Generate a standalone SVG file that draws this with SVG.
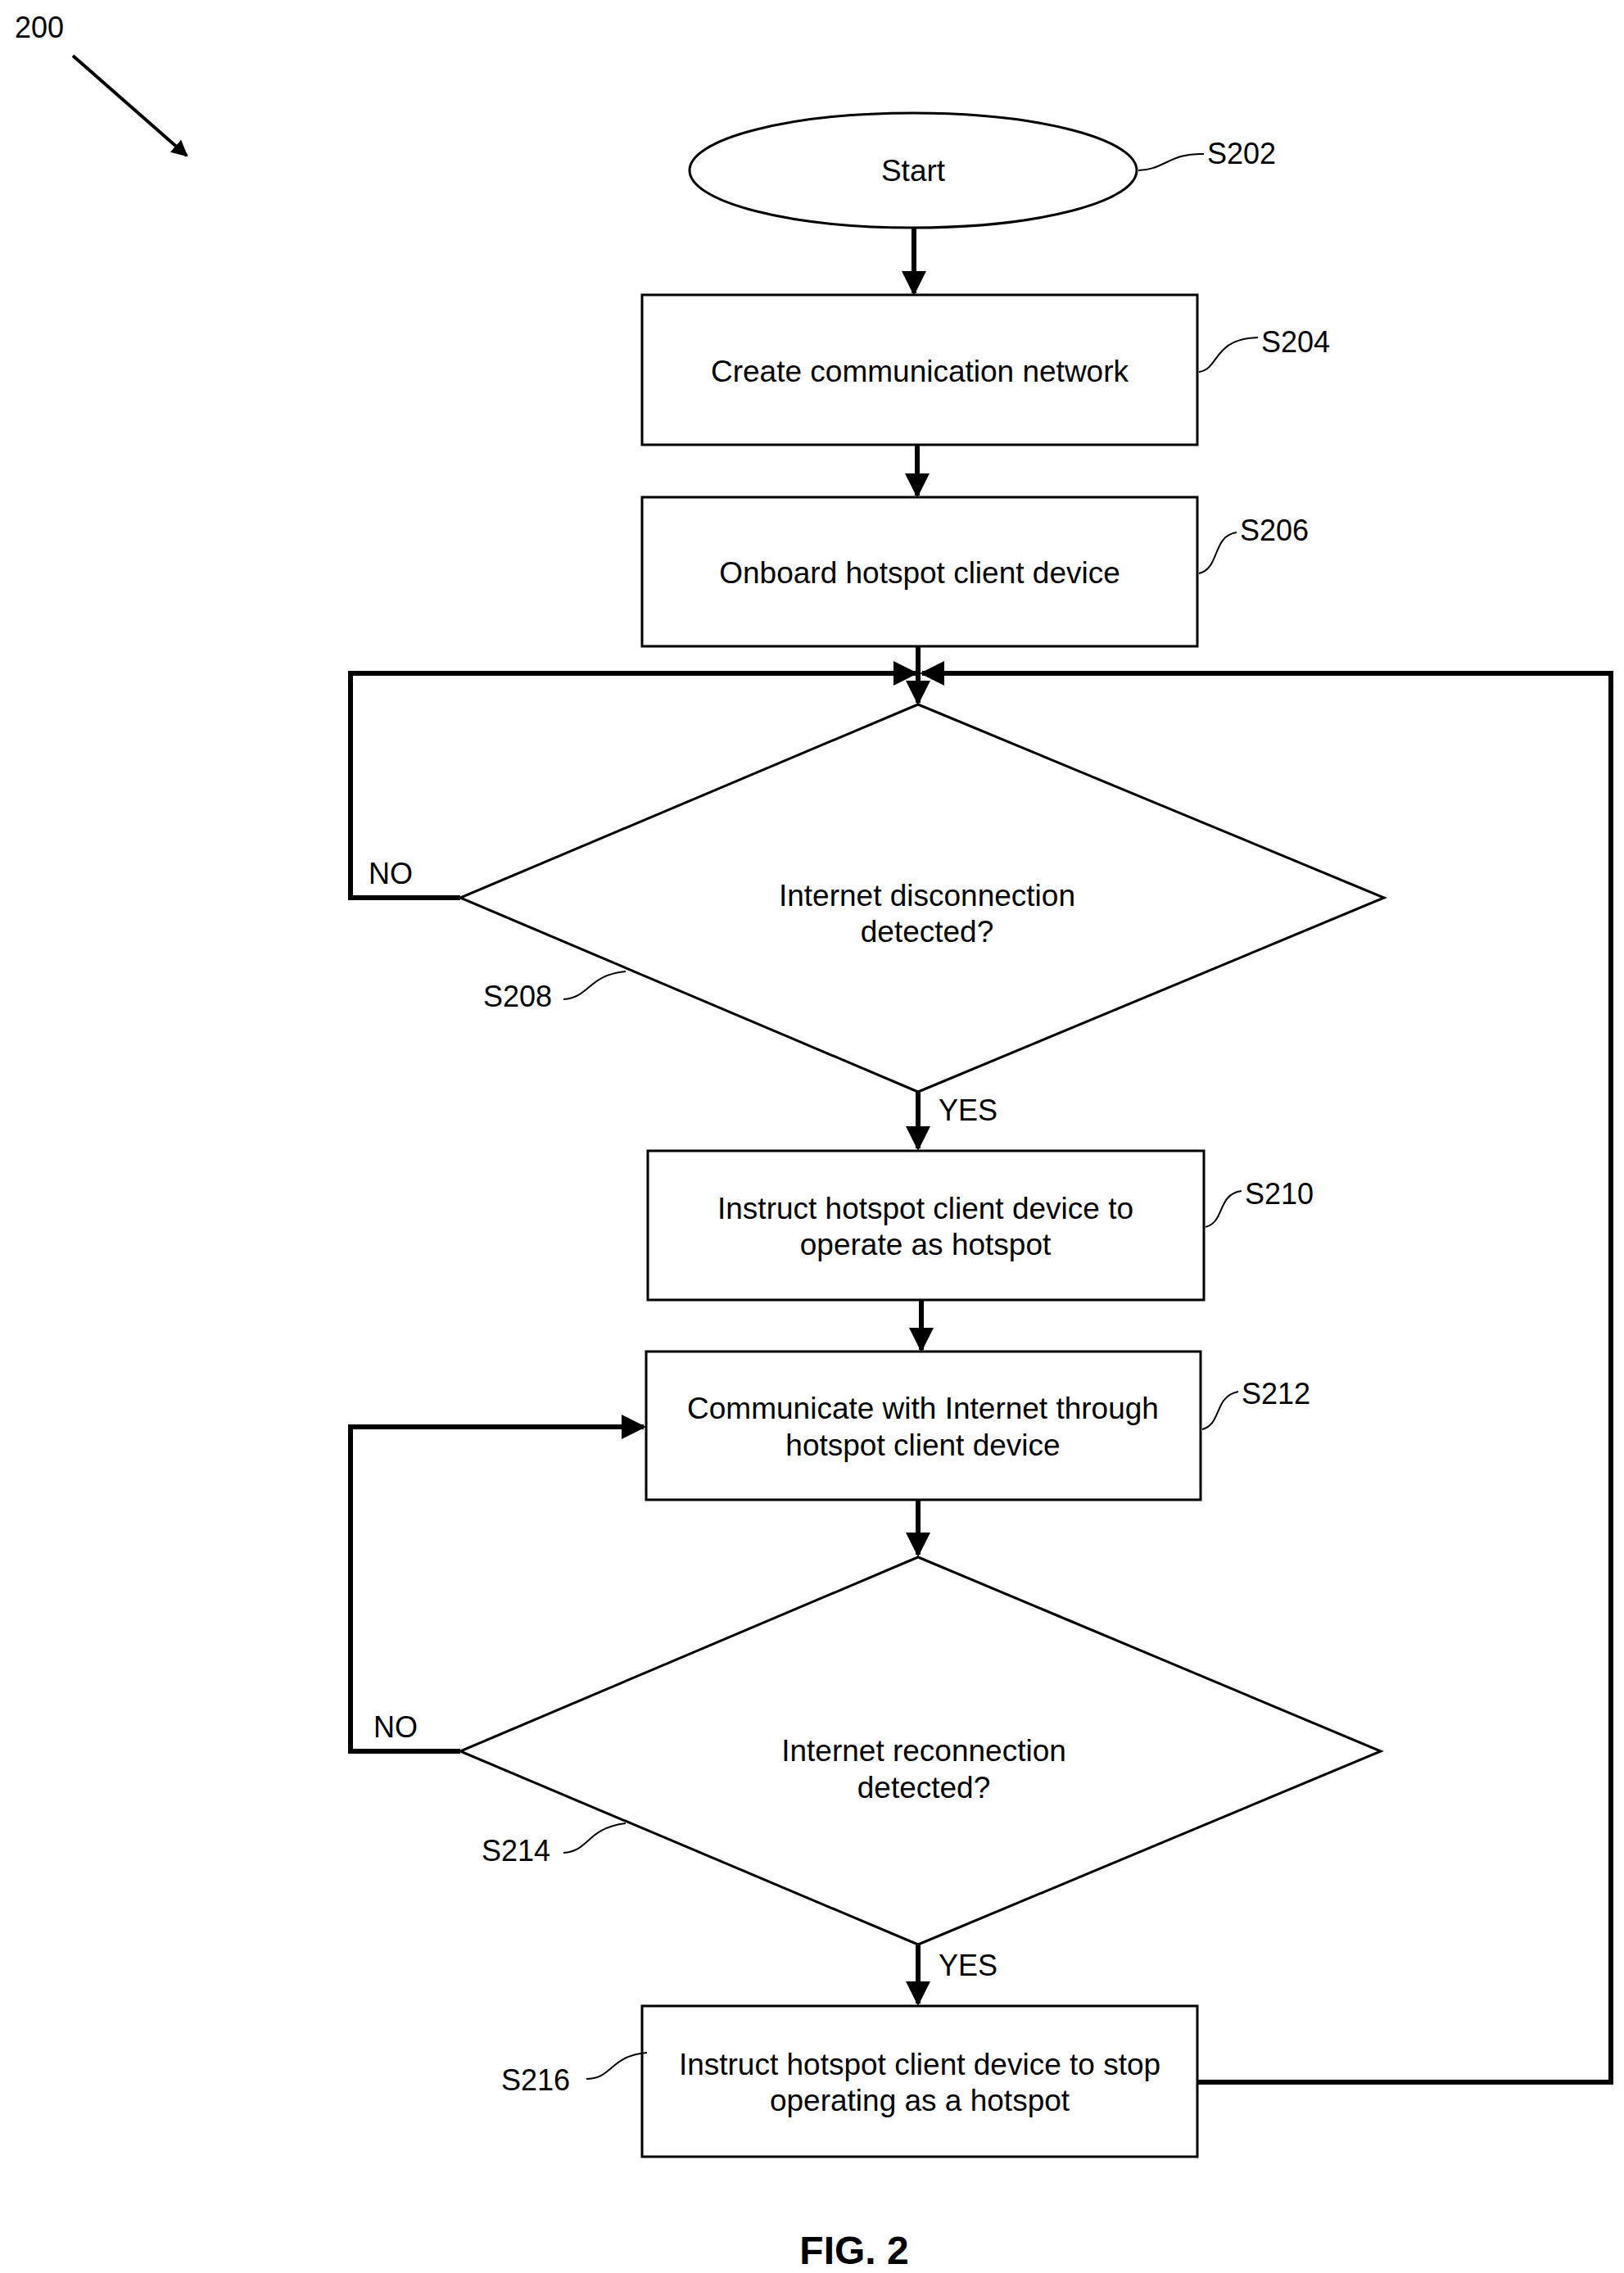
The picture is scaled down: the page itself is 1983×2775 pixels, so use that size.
<svg xmlns="http://www.w3.org/2000/svg" width="1983" height="2775" viewBox="0 0 1983 2775">
<style>
.s{fill:#fff;stroke:#000;stroke-width:3}
.t{font-family:"Liberation Sans",Arial,sans-serif;font-size:37px;text-anchor:middle;fill:#000}
.l{font-family:"Liberation Sans",Arial,sans-serif;font-size:36px;fill:#000}
.c{fill:none;stroke:#000;stroke-width:6}
.q{fill:none;stroke:#000;stroke-width:2}
</style>
<defs>
<marker id="a" markerWidth="5" markerHeight="5" refX="4.5" refY="2.5" orient="auto" markerUnits="strokeWidth"><path d="M0,0 L5,2.5 L0,5 z" fill="#000"/></marker>
</defs>
<text class="l" x="18" y="46">200</text>
<line x1="89" y1="68" x2="228" y2="190" stroke="#000" stroke-width="4" marker-end="url(#a)"/>
<g id="connectors">
<line class="c" x1="1116" y1="279" x2="1116" y2="358" marker-end="url(#a)"/>
<line class="c" x1="1120" y1="544" x2="1120" y2="605" marker-end="url(#a)"/>
<line class="c" x1="1121" y1="790" x2="1121" y2="858" marker-end="url(#a)"/>
<polyline class="c" points="562,1096 428,1096 428,822 1118,822" marker-end="url(#a)"/>
<polyline class="c" points="1462,2542 1967,2542 1967,822 1126,822" marker-end="url(#a)"/>
<line class="c" x1="1121" y1="1332" x2="1121" y2="1402" marker-end="url(#a)"/>
<line class="c" x1="1125" y1="1587" x2="1125" y2="1648" marker-end="url(#a)"/>
<polyline class="c" points="562,2138 428,2138 428,1742 786,1742" marker-end="url(#a)"/>
<line class="c" x1="1121" y1="1831" x2="1121" y2="1898" marker-end="url(#a)"/>
<line class="c" x1="1121" y1="2374" x2="1121" y2="2446" marker-end="url(#a)"/>
</g>
<g id="S202"><ellipse class="s" cx="1115" cy="208" rx="273" ry="70"/><text class="t" x="1115" y="221">Start</text>
<path class="q" d="M1390,208 C1420,208 1430,186 1470,188"/><text class="l" x="1474" y="200">S202</text></g>
<g id="S204"><rect class="s" x="784" y="360" width="678" height="183"/><text class="t" x="1123" y="466">Create communication network</text>
<path class="q" d="M1464,454 C1490,450 1480,414 1536,412"/><text class="l" x="1540" y="430">S204</text></g>
<g id="S206"><rect class="s" x="784" y="607" width="678" height="182"/><text class="t" x="1123" y="712">Onboard hotspot client device</text>
<path class="q" d="M1464,700 C1490,694 1480,654 1510,650"/><text class="l" x="1514" y="660">S206</text></g>
<g id="S208"><polygon class="s" points="1121,860 1690,1096 1121,1333 562,1096"/>
<text class="t" x="1132" y="1106">Internet disconnection</text><text class="t" x="1132" y="1150">detected?</text>
<text class="l" x="450" y="1079">NO</text>
<path class="q" d="M688,1220 C720,1218 718,1190 764,1186"/><text class="l" x="590" y="1229">S208</text></g>
<text class="l" x="1146" y="1368">YES</text>
<g id="S210"><rect class="s" x="791" y="1405" width="679" height="182"/>
<text class="t" x="1130" y="1488">Instruct hotspot client device to</text><text class="t" x="1130" y="1532">operate as hotspot</text>
<path class="q" d="M1472,1498 C1496,1492 1486,1458 1516,1454"/><text class="l" x="1520" y="1470">S210</text></g>
<g id="S212"><rect class="s" x="789" y="1650" width="677" height="181"/>
<text class="t" x="1127" y="1732">Communicate with Internet through</text><text class="t" x="1127" y="1777">hotspot client device</text>
<path class="q" d="M1468,1745 C1492,1739 1482,1705 1512,1699"/><text class="l" x="1516" y="1714">S212</text></g>
<g id="S214"><polygon class="s" points="1121,1901 1686,2138 1121,2374 562,2138"/>
<text class="t" x="1128" y="2150">Internet reconnection</text><text class="t" x="1128" y="2195">detected?</text>
<text class="l" x="456" y="2121">NO</text>
<path class="q" d="M688,2262 C720,2260 716,2232 764,2226"/><text class="l" x="588" y="2272">S214</text></g>
<text class="l" x="1146" y="2412">YES</text>
<g id="S216"><rect class="s" x="784" y="2449" width="678" height="184"/>
<text class="t" x="1123" y="2533">Instruct hotspot client device to stop</text><text class="t" x="1123" y="2577">operating as a hotspot</text>
<path class="q" d="M716,2538 C748,2538 744,2510 790,2506"/><text class="l" x="612" y="2552">S216</text></g>
<text x="1043" y="2764" font-family="Liberation Sans,Arial,sans-serif" font-size="48" font-weight="bold" text-anchor="middle">FIG. 2</text>
</svg>
